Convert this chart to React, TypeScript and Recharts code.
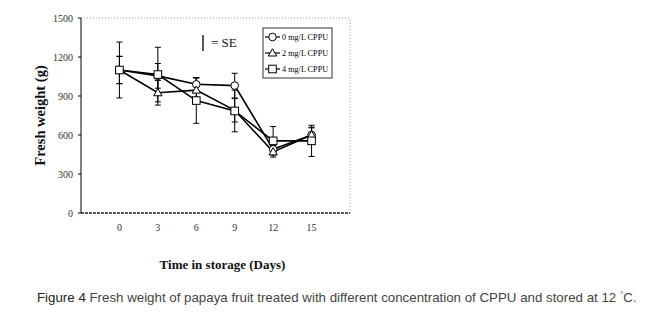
import React from 'react';
import { LineChart, Line, XAxis, YAxis, ErrorBar, ReferenceLine } from 'recharts';

const days = [0, 3, 6, 9, 12, 15];
const cppu0 = [1100, 1055, 990, 980, 490, 600];
const cppu2 = [1100, 925, 945, 790, 470, 600];
const cppu4 = [1100, 1065, 865, 785, 555, 555];
const se0 = [105, 95, 50, 95, 30, 55];
const se2 = [105, 95, 95, 90, 40, 60];
const se4 = [215, 210, 175, 160, 110, 120];
const yTicks = [0, 300, 600, 900, 1200, 1500];
const seriesNames = ['0 mg/L CPPU', '2 mg/L CPPU', '4 mg/L CPPU'];

const data = days.map((d, i) => ({
  day: d,
  a: cppu0[i], b: cppu2[i], c: cppu4[i],
  ea: se0[i], eb: se2[i], ec: se4[i],
}));

const SERIF = '"Liberation Serif", "Times New Roman", serif';

const Marker = ({ kind, cx, cy }: { kind: number; cx: number; cy: number }) => {
  if (kind === 0) return <circle cx={cx} cy={cy} r={3.8} fill="#fff" stroke="#000" strokeWidth={1} />;
  if (kind === 1)
    return (
      <polygon
        points={`${cx},${cy - 4.2} ${cx - 4.2},${cy + 3} ${cx + 4.2},${cy + 3}`}
        fill="#fff" stroke="#000" strokeWidth={1}
      />
    );
  return <rect x={cx - 3.8} y={cy - 3.8} width={7.6} height={7.6} fill="#fff" stroke="#000" strokeWidth={1} />;
};

const makeDot = (kind: number) => (props: any) => {
  const { cx, cy, index } = props;
  if (cx == null || cy == null) return <g key={`d${kind}-${index}`} />;
  return (
    <g key={`d${kind}-${index}`}>
      <Marker kind={kind} cx={cx} cy={cy} />
    </g>
  );
};

export default function App() {
  return (
    <div style={{ position: 'absolute', left: 0, top: 0, width: 670, height: 321, background: '#fff' }}>
      <LineChart
        width={670}
        height={321}
        data={data}
        margin={{ top: 18, right: 320, bottom: 48, left: 0 }}
      >
        <XAxis
          dataKey="day"
          type="number"
          domain={[-3, 18]}
          ticks={days}
          tickLine={false}
          tickSize={0}
          tickMargin={11}
          height={60}
          axisLine={{ stroke: '#222', strokeWidth: 1.6, strokeDasharray: '3 1' }}
          tick={{ fontFamily: SERIF, fontSize: 10, fill: '#333' }}
          label={{
            value: 'Time in storage (Days)',
            position: 'insideBottom',
            offset: 4,
            dx: 7,
            style: { fontFamily: SERIF, fontSize: 13, fontWeight: 'bold', fill: '#111' },
          }}
        />
        <YAxis
          type="number"
          domain={[0, 1500]}
          ticks={yTicks}
          width={81}
          tickSize={3}
          tickMargin={5}
          axisLine={{ stroke: '#000', strokeWidth: 1 }}
          tickLine={{ stroke: '#000' }}
          tick={{ fontFamily: SERIF, fontSize: 10, fill: '#333' }}
          label={{
            value: 'Fresh weight (g)',
            angle: -90,
            position: 'center',
            dx: -1,
            style: { fontFamily: SERIF, fontSize: 14.5, fontWeight: 'bold', fill: '#111', textAnchor: 'middle' },
          }}
        />
        <ReferenceLine y={1500} stroke="#999" strokeDasharray="1 2" />
        <ReferenceLine x={18} stroke="#999" strokeDasharray="1 2" />
        <Line
          dataKey="a"
          name={seriesNames[0]}
          stroke="#000"
          strokeWidth={1.6}
          isAnimationActive={false}
          dot={makeDot(0)}
          activeDot={false}
        >
          <ErrorBar dataKey="ea" width={3} stroke="#000" strokeWidth={1} direction="y" />
        </Line>
        <Line
          dataKey="b"
          name={seriesNames[1]}
          stroke="#000"
          strokeWidth={1.6}
          isAnimationActive={false}
          dot={makeDot(1)}
          activeDot={false}
        >
          <ErrorBar dataKey="eb" width={3} stroke="#000" strokeWidth={1} direction="y" />
        </Line>
        <Line
          dataKey="c"
          name={seriesNames[2]}
          stroke="#000"
          strokeWidth={1.6}
          isAnimationActive={false}
          dot={makeDot(2)}
          activeDot={false}
        >
          <ErrorBar dataKey="ec" width={3} stroke="#000" strokeWidth={1} direction="y" />
        </Line>
      </LineChart>

      <svg
        width={670}
        height={321}
        style={{ position: 'absolute', left: 0, top: 0, pointerEvents: 'none' }}
      >
        <line x1={203} y1={35} x2={203} y2={51} stroke="#000" strokeWidth={1.3} />
        <text x={211} y={47} fontFamily={SERIF} fontSize={13} fill="#111">= SE</text>
        <rect x={263} y={28} width={69} height={50} fill="#fff" stroke="#333" strokeWidth={1} />
        {seriesNames.map((n, i) => {
          const y = 37 + i * 16;
          return (
            <g key={n}>
              <line x1={265} y1={y} x2={280} y2={y} stroke="#000" strokeWidth={1.2} />
              <Marker kind={i} cx={272.5} cy={y} />
              <text x={282} y={y + 3} fontFamily={SERIF} fontSize={8.2} fill="#000">{n}</text>
            </g>
          );
        })}
      </svg>

      <div
        style={{
          position: 'absolute',
          left: 37,
          top: 287,
          fontFamily: '"Liberation Sans", Arial, sans-serif',
          fontSize: 13.3,
          color: '#444',
          whiteSpace: 'nowrap',
          lineHeight: '16px',
        }}
      >
        <span style={{ color: '#222' }}>Figure 4</span> Fresh weight of papaya fruit treated with different concentration of CPPU and stored at 12 <sup style={{ fontSize: 8 }}>°</sup>C.
      </div>
    </div>
  );
}
